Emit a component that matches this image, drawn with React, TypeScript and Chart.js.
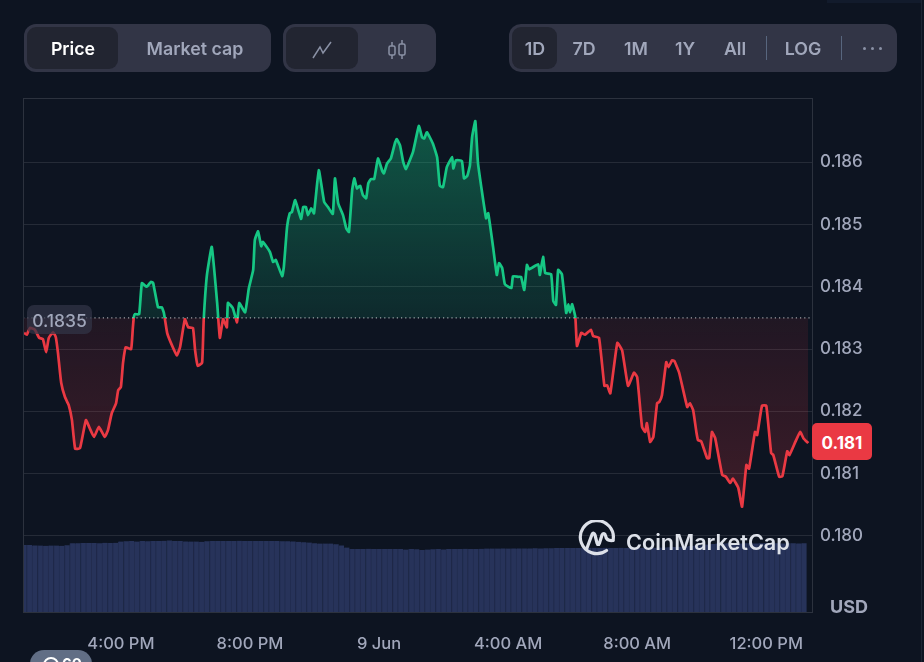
import React, { useEffect, useRef } from "react";
import { Chart, registerables } from "chart.js";

Chart.register(...registerables);

const basePrice = 0.1835;
const priceTicks = [0.18, 0.181, 0.182, 0.183, 0.184, 0.185, 0.186];
const timeTicks = [-480, -240, 0, 240, 480, 720];
const timeLabels = ["4:00 PM", "8:00 PM", "9 Jun", "4:00 AM", "8:00 AM", "12:00 PM"];
// minutes relative to 9 Jun 00:00
const times = [
  -660, -655, -649, -640, -632, -625, -619, -614, -606, -601, -597, -591, -584, -577, -571, -565, -556, -545, -538, -530,
  -521, -510, -504, -497, -489, -485, -480, -476, -471, -461, -458, -456, -454, -446, -441, -432, -424, -420, -411, -404,
  -400, -394, -387, -376, -370, -361, -355, -346, -342, -337, -329, -326, -320, -311, -301, -296, -290, -283, -281, -272,
  -264, -260, -249, -242, -234, -231, -225, -219, -216, -203, -197, -192, -180, -177, -171, -166, -162, -156, -145, -141,
  -136, -132, -126, -121, -112, -102, -95, -86, -82, -76, -67, -61, -56, -50, -46, -41, -35, -30, -24, -20,
  -15, -9, -2, 6, 9, 15, 22, 30, 33, 39, 45, 50, 63, 74, 80, 84, 89, 100, 108, 113,
  119, 126, 136, 138, 143, 154, 158, 164, 169, 173, 179, 184, 199, 203, 212, 219, 223, 229, 234, 246,
  249, 259, 264, 270, 275, 279, 296, 299, 305, 309, 320, 324, 329, 333, 340, 348, 352, 355, 359, 365,
  368, 376, 383, 394, 398, 409, 419, 424, 430, 443, 452, 463, 474, 480, 489, 495, 498, 504, 510, 517,
  521, 526, 534, 538, 545, 549, 558, 573, 578, 584, 590, 593, 599, 610, 614, 619, 625, 638, 645, 653,
  658, 668, 675, 683, 688, 699, 703, 712, 720, 729, 733, 744, 750, 759, 763, 774, 783, 789, 798,
];
const prices = [
  0.18326, 0.18323, 0.18334, 0.18331, 0.18318, 0.18316, 0.18295, 0.18318, 0.18327, 0.18319, 0.18294, 0.18246, 0.18223, 0.1821, 0.18186, 0.1814, 0.18141, 0.18186, 0.18173, 0.18159,
  0.18175, 0.18159, 0.1817, 0.18197, 0.18213, 0.18234, 0.18239, 0.18278, 0.18303, 0.183, 0.18331, 0.18351, 0.18356, 0.18356, 0.18406, 0.184, 0.18408, 0.18406, 0.18367, 0.18367,
  0.18358, 0.18326, 0.1831, 0.1829, 0.18303, 0.18348, 0.18335, 0.18334, 0.18298, 0.18273, 0.18278, 0.18347, 0.18419, 0.18464, 0.18374, 0.18318, 0.18348, 0.18335, 0.18374, 0.18366,
  0.18343, 0.18374, 0.18359, 0.18398, 0.18427, 0.18475, 0.18489, 0.18465, 0.18472, 0.18456, 0.1844, 0.18443, 0.18417, 0.18432, 0.18496, 0.18518, 0.1852, 0.18539, 0.18509, 0.18528,
  0.18528, 0.18515, 0.18526, 0.18518, 0.18587, 0.18536, 0.18528, 0.18517, 0.18574, 0.18534, 0.18515, 0.18494, 0.18488, 0.18555, 0.18574, 0.18558, 0.18562, 0.18547, 0.18542, 0.18566,
  0.18573, 0.18573, 0.18606, 0.18586, 0.18582, 0.18598, 0.18606, 0.18632, 0.18637, 0.18627, 0.186, 0.18589, 0.18616, 0.18658, 0.1864, 0.18638, 0.18648, 0.1863, 0.18608, 0.18562,
  0.1856, 0.18592, 0.18608, 0.1859, 0.18603, 0.18602, 0.18574, 0.18578, 0.18595, 0.1864, 0.18666, 0.18598, 0.1851, 0.18518, 0.18464, 0.18419, 0.18438, 0.1843, 0.18404, 0.18398,
  0.18417, 0.18416, 0.18416, 0.18395, 0.18435, 0.18428, 0.18436, 0.18419, 0.18448, 0.18422, 0.1842, 0.18377, 0.18371, 0.18427, 0.1842, 0.18358, 0.18372, 0.18359, 0.18372, 0.18351,
  0.18305, 0.18326, 0.18323, 0.18331, 0.18321, 0.18318, 0.18241, 0.18242, 0.18229, 0.1831, 0.18298, 0.18241, 0.18262, 0.18255, 0.18175, 0.18167, 0.18181, 0.18151, 0.18159, 0.18213,
  0.18215, 0.18226, 0.18279, 0.18271, 0.18282, 0.18281, 0.18262, 0.18207, 0.18213, 0.18202, 0.18167, 0.18154, 0.18152, 0.18125, 0.18125, 0.18167, 0.18157, 0.18098, 0.18095, 0.18085,
  0.18092, 0.18077, 0.18047, 0.18114, 0.18108, 0.18167, 0.18162, 0.18209, 0.18209, 0.18133, 0.1813, 0.18095, 0.18096, 0.18136, 0.1813, 0.18151, 0.18167, 0.18157, 0.18149,
];
const firstBarMinute = -660;
const barStepMinutes = 10;
const volumes = [
  33.5, 33.5, 33.3, 33.2, 33.1, 33.2, 33.2, 33.1, 33.4,
  34.4, 34.4, 34.5, 34.5, 34.5, 34.4, 34.6, 34.5, 34.6,
  35.2, 35.4, 35.5, 35.2, 35.5, 35.4, 35.5, 35.5, 35.6, 35.8,
  35.5, 35.5, 35.3, 35.2, 35.2, 35.1, 35.4, 35.5, 35.5, 35.5, 35.5, 35.5, 35.6, 35.5, 35.5, 35.5, 35.5, 35.5, 35.5, 35.5, 35.4, 35.4, 35.3,
  35.1, 34.9, 34.7, 34.4, 34.2, 34.2, 34.2, 33.9, 33.3, 32.2,
  31.5, 31.5, 31.5, 31.6, 31.5, 31.5, 31.5, 31.5, 31.5, 31.5, 31.2, 31.5, 31.4, 31, 31.2, 31.4, 31.5, 31.3, 31.5, 31.5, 31.5, 31.6, 31.5, 31.5, 31.6,
  31.7, 31.7, 31.7, 31.8, 31.7, 31.8, 31.8, 31.8, 31.8, 31.9, 31.8, 31.9, 31.9, 32, 32, 32, 32, 32, 32, 32.1, 32.1, 32, 32.1, 32,
  32, 32.1, 32, 32.1, 32, 32.1, 32.1, 32.1, 32.2, 32.3, 32.4, 32.5, 32.6, 32.8, 33, 33.2, 33.4, 33.7, 34, 34.2, 34.3, 34.4, 34.4, 34.3, 34.4, 34.4, 34.3, 34.4, 34.4, 34.3, 34.4, 34.3,
  34.4, 34.4, 34.3, 34.4,
];

const GREEN = "#16c784";
const RED = "#ea3943";

function lineGradient(ctx: any) {
  const { chart } = ctx;
  const area = chart.chartArea;
  if (!area) return GREEN;
  const t = (chart.scales.y.getPixelForValue(basePrice) - area.top) / (area.bottom - area.top);
  const g = chart.ctx.createLinearGradient(0, area.top, 0, area.bottom);
  g.addColorStop(0, GREEN);
  g.addColorStop(t, GREEN);
  g.addColorStop(t, RED);
  g.addColorStop(1, RED);
  return g;
}

function aboveFill(ctx: any) {
  const { chart } = ctx;
  if (!chart.chartArea) return "rgba(22,199,132,0.2)";
  const y = chart.scales.y;
  const g = chart.ctx.createLinearGradient(0, y.getPixelForValue(0.1867), 0, y.getPixelForValue(basePrice));
  g.addColorStop(0, "rgba(22,199,132,0.38)");
  g.addColorStop(1, "rgba(22,199,132,0.12)");
  return g;
}

function belowFill(ctx: any) {
  const { chart } = ctx;
  if (!chart.chartArea) return "rgba(234,57,67,0.15)";
  const y = chart.scales.y;
  const g = chart.ctx.createLinearGradient(0, y.getPixelForValue(basePrice), 0, y.getPixelForValue(0.1805));
  g.addColorStop(0, "rgba(234,57,67,0.09)");
  g.addColorStop(1, "rgba(234,57,67,0.22)");
  return g;
}

const frame = {
  id: "frame",
  afterDatasetsDraw(chart: any) {
    const { ctx, chartArea: a } = chart;
    ctx.save();
    ctx.strokeStyle = "#2c323e";
    ctx.lineWidth = 1;
    ctx.strokeRect(a.left + 0.5, a.top + 0.5, a.right - a.left, a.bottom - a.top);
    ctx.restore();
  },
};

const box = (x: number, y: number, w: number, h: number, bg: string, r = 10): React.CSSProperties => ({
  position: "absolute", left: x, top: y, width: w, height: h, background: bg, borderRadius: r,
});

function Label({ cx, text, color = "#a1a7bb", weight = 600, size = 17.8 }: any) {
  return (
    <div style={{ position: "absolute", left: cx - 70, width: 140, top: 24, height: 48, lineHeight: "49px", textAlign: "center", color, fontWeight: weight, fontSize: size }}>
      {text}
    </div>
  );
}

export default function App() {
  const ref = useRef<HTMLCanvasElement>(null);

  useEffect(() => {
    const chart = new Chart(ref.current!, {
      type: "line",
      data: {
        datasets: [
          {
            type: "line",
            data: [{ x: -662, y: basePrice }, { x: 805, y: basePrice }],
            borderColor: "rgba(255,255,255,0.6)",
            borderWidth: 1.2,
            borderDash: [1.2, 3],
            pointRadius: 0,
            order: 0,
            fill: false,
          },
          {
            type: "line",
            data: times.map((x, i) => ({ x, y: prices[i] })),
            borderColor: lineGradient,
            borderWidth: 2.7,
            tension: 0.12,
            pointRadius: 0,
            order: 1,
            fill: { target: { value: basePrice }, above: aboveFill, below: belowFill },
          },
          {
            type: "bar",
            data: volumes.map((v, i) => ({ x: firstBarMinute + i * barStepMinutes, y: v })),
            yAxisID: "y1",
            backgroundColor: "#27335a",
            borderColor: "#222d50",
            borderWidth: { left: 1, right: 0, top: 0, bottom: 0 },
            borderSkipped: false,
            barThickness: 5.38,
            order: 2,
          },
        ],
      } as any,
      options: {
        responsive: false,
        animation: false,
        devicePixelRatio: 1,
        events: [],
        layout: { padding: { left: 23, top: 98, right: 0, bottom: 0 } },
        plugins: { legend: { display: false }, title: { display: false }, tooltip: { enabled: false } },
        scales: {
          x: {
            type: "linear",
            offset: false,
            min: -662,
            max: 805,
            border: { display: false },
            grid: { display: false, offset: false },
            afterBuildTicks: (s: any) => { s.ticks = timeTicks.map((value) => ({ value })); },
            afterFit: (s: any) => { s.height = 50; },
            ticks: {
              autoSkip: false,
              maxRotation: 0,
              padding: 14,
              color: "#a1a7bb",
              font: { family: "Inter", size: 16.5, weight: 500 },
              callback: (v: any) => timeLabels[timeTicks.indexOf(Number(v))],
            },
          },
          y: {
            position: "right",
            min: 0.17878,
            max: 0.18703,
            border: { display: false },
            grid: { color: "rgba(255,255,255,0.1)", drawTicks: false, lineWidth: 1 },
            afterBuildTicks: (s: any) => { s.ticks = priceTicks.map((value) => ({ value })); },
            afterFit: (s: any) => { s.width = 112; },
            ticks: {
              padding: 8,
              color: "#a1a7bb",
              font: { family: "Inter", size: 17, weight: 500 },
              callback: (v: any) => Number(v).toFixed(3),
            },
          },
          y1: { display: false, min: 0, max: 257 },
        },
      } as any,
      plugins: [frame],
    });
    return () => chart.destroy();
  }, []);

  return (
    <div style={{ position: "fixed", left: 0, top: 0, width: 924, height: 662, overflow: "hidden", background: "#0d1421", fontFamily: "Inter, sans-serif" }}>
      <canvas ref={ref} width={924} height={662} style={{ position: "absolute", left: 0, top: 0, display: "block" }} />

      <div style={box(24, 24, 247, 48, "#323546", 12)} />
      <div style={box(27, 27, 91, 42, "#222531", 9)} />
      <Label cx={73} text="Price" color="#ffffff" />
      <Label cx={195} text="Market cap" />

      <div style={box(283, 24, 153, 48, "#323546", 12)} />
      <div style={box(286, 27, 72, 42, "#222531", 9)} />
      <svg style={{ position: "absolute", left: 310, top: 38, overflow: "visible" }} width="24" height="24" fill="none" stroke="#8a91a5" strokeWidth="1.5">
        <path d="M3 20 L10 9 L13 15 L21 4" />
      </svg>
      <svg style={{ position: "absolute", left: 385, top: 38 }} width="24" height="24" fill="none" stroke="#8a91a5" strokeWidth="1.5">
        <rect x="4" y="8" width="6" height="9" rx="1.5" />
        <rect x="14" y="6" width="6" height="11" rx="1.5" />
        <path d="M7 4 V8 M7 17 V21 M17 2 V6 M17 17 V21" />
      </svg>

      <div style={box(509, 24, 388, 48, "#323546", 12)} />
      <div style={box(512, 27, 45, 42, "#222531", 9)} />
      <Label cx={535} text="1D" />
      <Label cx={584} text="7D" />
      <Label cx={636} text="1M" />
      <Label cx={685} text="1Y" />
      <Label cx={735} text="All" />
      <Label cx={803} text="LOG" />
      <div style={box(766, 36, 1, 24, "#58667e", 0)} />
      <div style={box(841, 36, 1, 24, "#58667e", 0)} />
      {[864, 872, 880].map((x) => (
        <div key={x} style={box(x - 1, 47, 2.5, 2.5, "#8a91a5", 2)} />
      ))}

      <div style={box(27, 305, 65, 29, "rgba(50,53,70,0.72)", 7)} />
      <div style={{ position: "absolute", left: 27, width: 65, top: 305, height: 29, lineHeight: "32px", textAlign: "center", color: "#a1a7bb", fontSize: 17.5, fontWeight: 500 }}>0.1835</div>

      <div style={{ ...box(812, 423, 60, 37, RED, 5), lineHeight: "41px", textAlign: "center", color: "#fff", fontSize: 17, fontWeight: 700 }}>0.181</div>

      <div style={{ position: "absolute", left: 830, top: 597, color: "#a1a7bb", fontSize: 18, fontWeight: 700, lineHeight: "20px" }}>USD</div>

      <svg style={{ position: "absolute", left: 576, top: 520 }} width="42" height="40" fill="none" stroke="#dde1e9" strokeWidth="3.2" strokeLinecap="round" strokeLinejoin="round">
        <path d="M30.5 30.5 A16.5 16.5 0 1 1 37 20.5" />
        <path d="M11 28 L16 14.5 C17 12.5 18.5 13 19 15 L21 23 C21.5 25 23 25 23.5 23 L26 15 C27 13 29 13 29.5 15.5 C30.2 20 33 21 37 20.5" />
      </svg>
      <div style={{ position: "absolute", left: 626, top: 527, lineHeight: "30px", color: "#dde1e9", fontSize: 21.7, fontWeight: 600, whiteSpace: "nowrap" }}>CoinMarketCap</div>

      <div style={box(827, 0, 94, 3, "#121b2c", 0)} />
      <div style={box(921, 0, 1, 662, "#1c2433", 0)} />

      <div style={{ ...box(30, 650, 62, 30, "#616e85", 14) }} />
      <div style={{ position: "absolute", left: 43, top: 657, width: 12, height: 12, border: "2px solid #fff", borderRadius: 8 }} />
      <div style={{ position: "absolute", left: 62, top: 654, color: "#fff", fontSize: 15, fontWeight: 700, lineHeight: "20px" }}>60</div>
    </div>
  );
}
